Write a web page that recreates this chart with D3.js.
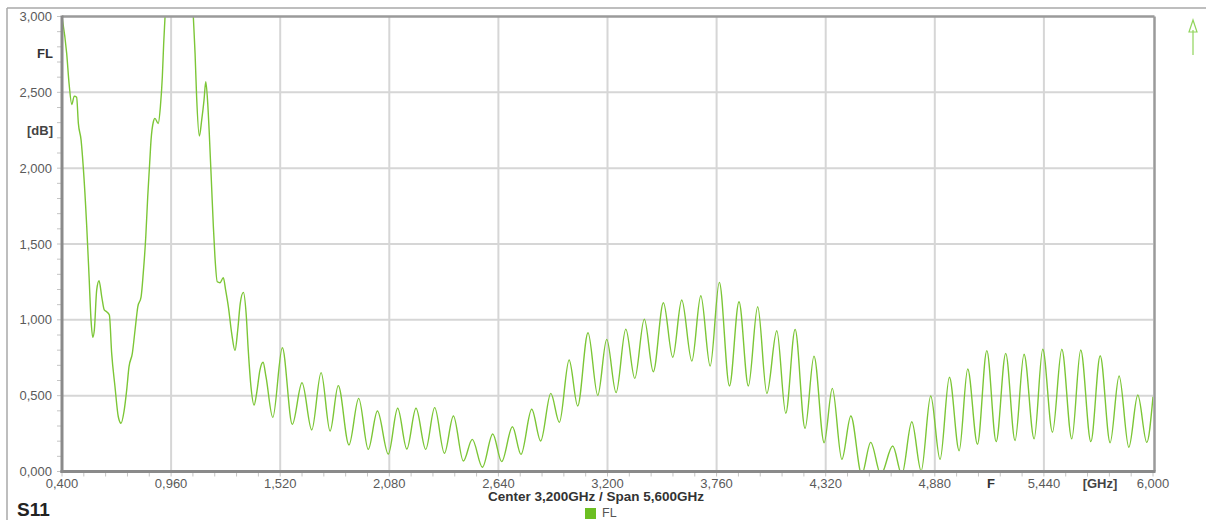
<!DOCTYPE html>
<html>
<head>
<meta charset="utf-8">
<script src="https://cdn.jsdelivr.net/npm/d3@7"></script>
<style>
  html, body { margin: 0; padding: 0; background: #fff; }
  svg { display: block; font-family: "Liberation Sans", Arial, sans-serif; }
</style>
</head>
<body>
<svg id="chart" width="1206" height="520"></svg>
<script>
// ---- data ----
const freqGHz = [
  0.400, 0.424, 0.437, 0.450, 0.463, 0.475, 0.484, 0.498, 0.509, 0.527, 0.539, 0.549, 0.558, 0.566,
  0.578, 0.590, 0.604, 0.617, 0.629, 0.643, 0.655, 0.672, 0.689, 0.703, 0.718, 0.732, 0.744, 0.761,
  0.775, 0.789, 0.806, 0.817, 0.830, 0.840, 0.850, 0.857, 0.869, 0.877, 0.894, 0.905, 0.915, 0.922,
  0.929, 0.950, 1.000, 1.050, 1.074, 1.083, 1.091, 1.105, 1.117, 1.129, 1.138, 1.148, 1.156, 1.168,
  1.177, 1.185, 1.197, 1.211, 1.228, 1.240, 1.254, 1.271, 1.288, 1.302, 1.315, 1.331, 1.345, 1.356,
  1.370, 1.386, 1.399, 1.416, 1.432, 1.447, 1.482, 1.531, 1.582, 1.632,
  1.682, 1.730, 1.776, 1.818, 1.873, 1.923, 1.972, 2.019, 2.075, 2.123, 2.170, 2.217, 2.267, 2.313,
  2.363, 2.409, 2.460, 2.506, 2.558, 2.611, 2.657, 2.712, 2.756, 2.811, 2.857, 2.909, 2.953, 3.003,
  3.047, 3.100, 3.150, 3.196, 3.244, 3.294, 3.340, 3.389, 3.435, 3.487, 3.535, 3.581, 3.633, 3.679,
  3.727, 3.774, 3.826, 3.875, 3.923, 3.971, 4.018, 4.069, 4.115, 4.163, 4.214, 4.260, 4.312, 4.354,
  4.403, 4.449, 4.505, 4.551, 4.603, 4.664, 4.711, 4.762, 4.810, 4.859, 4.907, 4.955, 5.005, 5.049,
  5.099, 5.147, 5.195, 5.244, 5.292, 5.338, 5.390, 5.434, 5.484, 5.532, 5.583, 5.629, 5.681, 5.729,
  5.780, 5.826, 5.876, 5.922, 5.968, 6.000
];
const s11dB = [
  3.000, 2.757, 2.548, 2.420, 2.475, 2.467, 2.295, 2.185, 2.010, 1.614, 1.284, 0.999, 0.885, 0.933,
  1.196, 1.258, 1.152, 1.065, 1.053, 1.032, 0.779, 0.559, 0.361, 0.318, 0.394, 0.537, 0.691, 0.779,
  0.933, 1.086, 1.152, 1.306, 1.548, 1.812, 2.032, 2.185, 2.306, 2.328, 2.295, 2.405, 2.603, 2.823,
  3.000, 3.600, 4.000, 3.600, 3.000, 2.757, 2.471, 2.212, 2.317, 2.449, 2.570, 2.427, 2.229, 1.877,
  1.614, 1.416, 1.251, 1.245, 1.278, 1.196, 1.086, 0.911, 0.797, 0.933, 1.109, 1.181, 1.043, 0.801,
  0.559, 0.438, 0.515, 0.669, 0.720, 0.625, 0.357, 0.816, 0.311, 0.585,
  0.274, 0.652, 0.267, 0.566, 0.175, 0.482, 0.146, 0.399, 0.115, 0.417, 0.148, 0.417, 0.146, 0.421,
  0.120, 0.366, 0.069, 0.212, 0.028, 0.247, 0.065, 0.295, 0.113, 0.410, 0.201, 0.515, 0.324, 0.735,
  0.432, 0.915, 0.502, 0.871, 0.520, 0.939, 0.614, 1.005, 0.658, 1.113, 0.753, 1.131, 0.728, 1.159,
  0.695, 1.247, 0.564, 1.119, 0.564, 1.086, 0.515, 0.928, 0.384, 0.937, 0.285, 0.761, 0.190, 0.548,
  0.080, 0.366, -0.020, 0.192, -0.020, 0.168, -0.020, 0.328, 0.003, 0.498, 0.080, 0.621, 0.137, 0.676,
  0.180, 0.797, 0.197, 0.779, 0.204, 0.773, 0.215, 0.806, 0.259, 0.806, 0.215, 0.801, 0.197, 0.763,
  0.190, 0.630, 0.160, 0.504, 0.192, 0.493
];
const xTicks = [0.400, 0.960, 1.520, 2.080, 2.640, 3.200, 3.760, 4.320, 4.880, 5.440, 6.000];
const yTicks = [0.000, 0.500, 1.000, 1.500, 2.000, 2.500, 3.000];
const seriesName = "FL";
const chartTitle = "S11";
const xUnit = "[GHz]";
const xName = "F";
const yUnit = "[dB]";
const footer = "Center 3,200GHz / Span 5,600GHz";

// ---- drawing ----
const svg = d3.select("#chart");
const L = 62, R = 1153, T = 16.5, B = 471.5;
const x = d3.scaleLinear().domain([0.4, 6.0]).range([L, R]);
const y = d3.scaleLinear().domain([0, 3]).range([B, T]);
const fmt = v => d3.format(".3f")(v).replace(".", ",");
const green = "#7cc636";

// outer frame
svg.append("line").attr("x1", 7).attr("x2", 1206).attr("y1", 8).attr("y2", 8)
  .attr("stroke", "#a8a8a8").attr("stroke-width", 1.5);
svg.append("line").attr("x1", 7).attr("x2", 7).attr("y1", 8).attr("y2", 520)
  .attr("stroke", "#a8a8a8").attr("stroke-width", 1.5);

// grid
const grid = svg.append("g");
grid.selectAll("line.v").data(xTicks.slice(1, -1)).join("line")
  .attr("x1", d => x(d)).attr("x2", d => x(d)).attr("y1", T).attr("y2", B)
  .attr("stroke", "#d6d6d6").attr("stroke-width", 2);
grid.selectAll("line.h").data(yTicks.slice(1, -1)).join("line")
  .attr("x1", L).attr("x2", R).attr("y1", d => y(d)).attr("y2", d => y(d))
  .attr("stroke", "#d6d6d6").attr("stroke-width", 2);

// minor ticks
const xMinor = d3.range(0, 51).map(i => 0.4 + i * 0.112);
svg.append("g").selectAll("line").data(xMinor).join("line")
  .attr("x1", d => x(d)).attr("x2", d => x(d)).attr("y1", B).attr("y2", B + 5)
  .attr("stroke", "#c4c4c4").attr("stroke-width", 1);
const yMinor = d3.range(0, 31).map(i => i * 0.1);
svg.append("g").selectAll("line").data(yMinor).join("line")
  .attr("x1", L - 5).attr("x2", L).attr("y1", d => y(d)).attr("y2", d => y(d))
  .attr("stroke", "#c4c4c4").attr("stroke-width", 1);

// curve
svg.append("clipPath").attr("id", "clip").append("rect")
  .attr("x", L).attr("y", T).attr("width", R - L).attr("height", B - T);
const pts = freqGHz.map((f, i) => [f, s11dB[i]]);
const line = d3.line().x(d => x(d[0])).y(d => y(d[1])).curve(d3.curveMonotoneX);
svg.append("path").datum(pts).attr("d", line).attr("clip-path", "url(#clip)")
  .attr("fill", "none").attr("stroke", green).attr("stroke-width", 1.4);

// plot frame
svg.append("line").attr("x1", L).attr("x2", R + 1.5).attr("y1", T).attr("y2", T)
  .attr("stroke", "#9a9a9a").attr("stroke-width", 2.5);
svg.append("line").attr("x1", R + 1.5).attr("x2", R + 1.5).attr("y1", T).attr("y2", B)
  .attr("stroke", "#9a9a9a").attr("stroke-width", 2.5);
svg.append("line").attr("x1", L).attr("x2", L).attr("y1", T - 1).attr("y2", B + 1.5)
  .attr("stroke", "#8a8a8a").attr("stroke-width", 3);
svg.append("line").attr("x1", L - 1.5).attr("x2", R + 2.5).attr("y1", B).attr("y2", B)
  .attr("stroke", "#8a8a8a").attr("stroke-width", 3);

// tick labels
svg.append("g").selectAll("text").data(yTicks).join("text")
  .attr("x", 52).attr("y", d => y(d)).attr("dy", "0.35em").attr("text-anchor", "end")
  .attr("font-size", 13).attr("fill", "#5a5a5a").text(fmt);
svg.append("g").selectAll("text").data(xTicks).join("text")
  .attr("x", d => x(d)).attr("y", 483).attr("dy", "0.35em").attr("text-anchor", "middle")
  .attr("font-size", 13).attr("fill", "#5a5a5a").text(fmt);

// axis names
svg.append("text").attr("x", 53).attr("y", 53).attr("dy", "0.35em").attr("text-anchor", "end")
  .attr("font-size", 13).attr("font-weight", "bold").attr("fill", "#333").text(seriesName);
svg.append("text").attr("x", 53).attr("y", 130).attr("dy", "0.35em").attr("text-anchor", "end")
  .attr("font-size", 13).attr("font-weight", "bold").attr("fill", "#444").text(yUnit);
svg.append("text").attr("x", 991).attr("y", 483).attr("dy", "0.35em").attr("text-anchor", "middle")
  .attr("font-size", 13).attr("font-weight", "bold").attr("fill", "#333").text(xName);
svg.append("text").attr("x", 1100).attr("y", 483).attr("dy", "0.35em").attr("text-anchor", "middle")
  .attr("font-size", 13).attr("font-weight", "bold").attr("fill", "#444").text(xUnit);
svg.append("text").attr("x", 596).attr("y", 496).attr("dy", "0.35em").attr("text-anchor", "middle")
  .attr("font-size", 13.5).attr("font-weight", "bold").attr("fill", "#333").text(footer);
svg.append("text").attr("x", 17).attr("y", 509).attr("dy", "0.35em")
  .attr("font-size", 19).attr("font-weight", "bold").attr("fill", "#222").text(chartTitle);

// legend
svg.append("rect").attr("x", 585).attr("y", 508).attr("width", 11).attr("height", 11).attr("fill", "#6cbf22");
svg.append("text").attr("x", 602).attr("y", 512.5).attr("dy", "0.35em")
  .attr("font-size", 12.5).attr("fill", "#555").text(seriesName);

// marker arrow (top right)
const ar = svg.append("g").attr("fill", "none").attr("stroke", "#8fd45a").attr("stroke-width", 1.2);
ar.append("line").attr("x1", 1193).attr("x2", 1193).attr("y1", 30).attr("y2", 55);
ar.append("path").attr("d", "M1193,20 L1189,32 L1197,32 Z");
</script>
</body>
</html>
